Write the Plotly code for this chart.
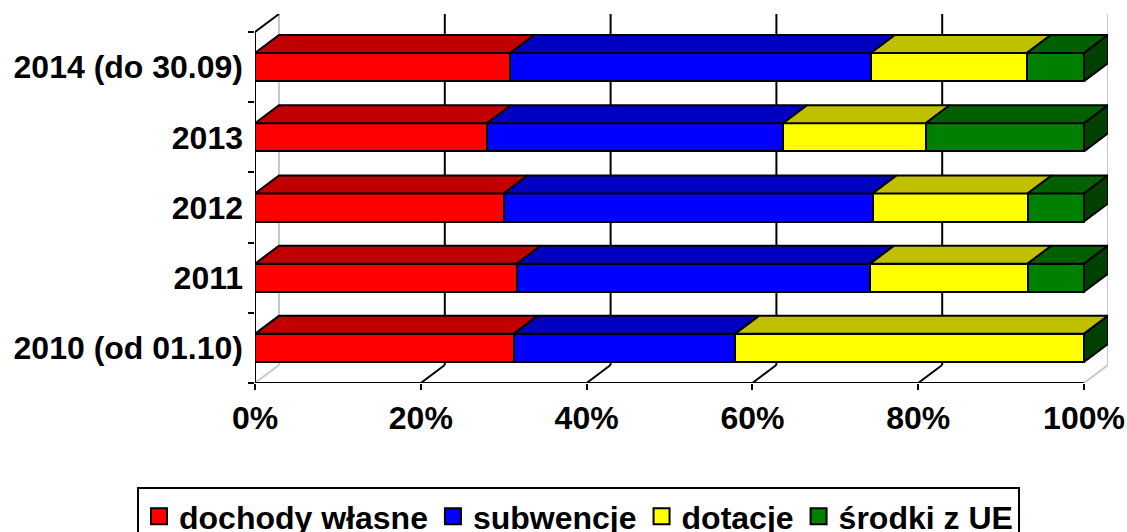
import plotly.graph_objects as go

categories = ["2010 (od 01.10)", "2011", "2012", "2013", "2014 (do 30.09)"]
series_names = ["dochody własne", "subwencje", "dotacje", "środki z UE"]
dochody = [31.2, 31.6, 30.0, 28.0, 30.8]
subwencje = [26.7, 42.6, 44.5, 35.7, 43.5]
dotacje = [42.1, 19.0, 18.7, 17.2, 18.8]
srodki = [0.0, 6.8, 6.8, 19.1, 6.9]
tick_pcts = [0, 20, 40, 60, 80, 100]
tick_labels = ["0%", "20%", "40%", "60%", "80%", "100%"]

front_colors = ["#FF0000", "#0000FF", "#FFFF00", "#008000"]
top_colors = ["#C00000", "#0000C0", "#C0C000", "#006000"]
side_color = "#004000"

W, H = 1127, 532
ML, MR, MT, MB = 255, 19, 14, 149
DX_PX, DY_PX = 24, 18
FRONT_W_PX = 829
px_per_x = FRONT_W_PX / 100.0
dx = DX_PX / px_per_x
n = len(categories)
plot_h = H - MT - MB
plot_w = W - ML - MR
y_lo = -0.5
ppy = (plot_h - DY_PX) / n
dy = DY_PX / ppy
y_hi = n - 0.5 + dy
bar_w = 0.4

FONT = "Liberation Sans, Arial, sans-serif"
FS = 32
LFS = 32
all_series = [dochody, subwencje, dotacje, srodki]
ypos = list(range(n))

fig = go.Figure()

for name, vals, col in zip(series_names, all_series, front_colors):
    fig.add_trace(go.Bar(
        x=vals, y=ypos, orientation="h", width=bar_w, name=name,
        marker=dict(color=col, line=dict(color="black", width=2)),
        showlegend=False, hoverinfo="skip"))

# top faces
cum = [0.0] * n
for s, (vals, col) in enumerate(zip(all_series, top_colors)):
    xs, ys = [], []
    for i in range(n):
        x0 = cum[i]
        x1 = cum[i] + vals[i]
        cum[i] = x1
        if vals[i] <= 0:
            continue
        yt = i + bar_w / 2
        xs += [x0, x1, x1 + dx, x0 + dx, x0, None]
        ys += [yt, yt, yt + dy, yt + dy, yt, None]
    fig.add_trace(go.Scatter(x=xs, y=ys, mode="lines", fill="toself",
                             fillcolor=col, line=dict(color="black", width=2),
                             showlegend=False, hoverinfo="skip"))

# side faces at end of stack
xs, ys = [], []
for i in range(n):
    xe = cum[i]
    yb = i - bar_w / 2
    yt = i + bar_w / 2
    xs += [xe, xe + dx, xe + dx, xe, xe, None]
    ys += [yb, yb + dy, yt + dy, yt, yb, None]
fig.add_trace(go.Scatter(x=xs, y=ys, mode="lines", fill="toself",
                         fillcolor=side_color, line=dict(color="black", width=2),
                         showlegend=False, hoverinfo="skip"))

# legend entries
for name, col in zip(series_names, front_colors):
    fig.add_trace(go.Scatter(
        x=[None], y=[None], mode="markers", name=name,
        marker=dict(symbol="square", size=16, color=col,
                    line=dict(color="black", width=2))))

shapes = []
for p in tick_pcts:
    edge = p in (tick_pcts[0], tick_pcts[-1])
    col = "#C8C8C8" if edge else "black"
    shapes.append(dict(type="line", xref="x", yref="y", x0=p + dx, x1=p + dx,
                       y0=y_lo + dy, y1=y_hi, line=dict(color=col, width=2),
                       layer="below"))
    shapes.append(dict(type="line", xref="x", yref="y", x0=p, x1=p + dx,
                       y0=y_lo, y1=y_lo + dy, line=dict(color=col, width=2),
                       layer="below"))
shapes.append(dict(type="line", xref="x", yref="y", x0=0, x1=100,
                   y0=y_lo, y1=y_lo, line=dict(color="black", width=2)))
shapes.append(dict(type="line", xref="x", yref="y", x0=0, x1=0,
                   y0=y_lo, y1=n - 0.5, line=dict(color="black", width=2)))
shapes.append(dict(type="line", xref="x", yref="y", x0=0, x1=dx,
                   y0=n - 0.5, y1=n - 0.5 + dy, line=dict(color="black", width=2)))

fig.update_layout(
    width=W, height=H,
    margin=dict(l=ML, r=MR, t=MT, b=MB, autoexpand=False),
    plot_bgcolor="white", paper_bgcolor="white",
    barmode="stack", bargap=0,
    font=dict(family=FONT, size=FS, color="black", weight="bold"),
    shapes=shapes,
    xaxis=dict(range=[0, 100 + dx], tickvals=tick_pcts, ticktext=tick_labels,
               showgrid=False, zeroline=False, showline=False,
               ticks="outside", ticklen=6, tickwidth=2, tickcolor="black",
               ticklabelstandoff=1, automargin=False, fixedrange=True),
    yaxis=dict(range=[y_lo, y_hi], tickvals=ypos, ticktext=categories,
               showgrid=False, zeroline=False, showline=False,
               ticks="", ticklabelstandoff=11, automargin=False,
               minor=dict(tickvals=[k - 0.5 for k in range(n + 1)],
                          ticks="outside", ticklen=6, tickwidth=2,
                          tickcolor="black"),
               fixedrange=True),
    legend=dict(orientation="h", traceorder="normal",
                x=(137 - ML) / plot_w, xanchor="left",
                y=-(487 - (H - MB)) / plot_h, yanchor="top",
                bordercolor="black", borderwidth=2, bgcolor="white",
                font=dict(family=FONT, size=LFS, color="black", weight="bold"),
                itemclick=False, itemdoubleclick=False),
    showlegend=True,
)

fig.write_html(
    "out.html",
    config={"displayModeBar": False},
    post_script="document.body.style.margin='0';document.body.style.overflow='hidden';",
)
